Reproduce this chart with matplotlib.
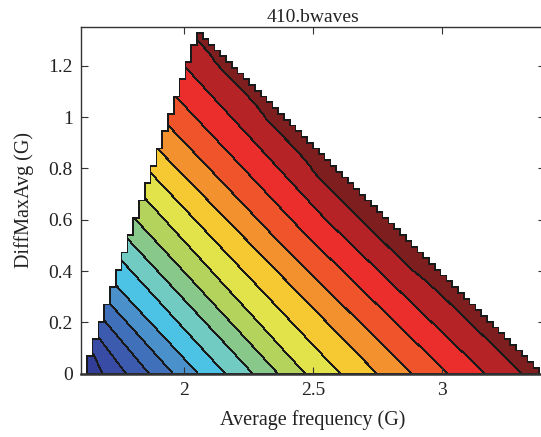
import matplotlib.pyplot as plt
import numpy as np

plt.rcParams['font.family'] = ['Liberation Serif', 'DejaVu Serif']

# frequency range of the platform (G)
f_min, f_max = 1.6, 3.4
step = 0.0225

# x where each contour boundary meets the bottom axis (G)
bottom_x = [1.628, 1.682, 1.775, 1.864, 1.957, 2.054, 2.159, 2.267,
            2.364, 2.469, 2.605, 2.748, 2.884, 3.023, 3.167, 3.310]
# height where the same boundary meets the left edge of the region (G)
edge_y = [0.045, 0.10, 0.16, 0.225, 0.29, 0.36, 0.45, 0.53,
          0.61, 0.70, 0.79, 0.88, 0.98, 1.086, 1.20, 1.307]
# x of the boundary half way up (at edge_y / 2)
mid_x = [1.621, 1.658, 1.714, 1.770, 1.827, 1.887, 1.954, 2.022,
         2.084, 2.151, 2.234, 2.321, 2.390, 2.470, 2.550, 2.620]

band_colors = ['#2c2b80', '#323e98', '#384ba5', '#3c5aae', '#4070b9',
               '#4a90cb', '#4cc3e4', '#72cbc3', '#88c98b', '#b3d35c',
               '#e2e34a', '#f6c832', '#f3912f', '#f0542a', '#eb2d2b',
               '#b52326', '#7e1e1f']

xb = np.array(bottom_x)
yl = np.array(edge_y)
xm = np.array(mid_x)
xl = f_min + yl / 3

xs = np.arange(f_min, f_max + step / 2, step)
ys = np.arange(0, 0.75 * (f_max - f_min) + step / 2, step)
X, Y = np.meshgrid(xs, ys)

Z = np.zeros_like(X)
for j, y in enumerate(ys):
    t = y / (yl / 2)
    pos = np.where(t <= 1, xb + (xm - xb) * t, xm + (xl - xm) * (t - 1))
    pos = np.maximum.accumulate(pos + 1e-6 * np.arange(len(pos)))
    Z[j] = np.interp(xs, np.r_[pos[0] - 1, pos, pos[-1] + 1], np.arange(18))

outside = (Y > 3 * (X - f_min) + 1e-6) | (X + Y > f_max + 1e-6)
Z = np.ma.array(Z, mask=outside)

fig = plt.figure(figsize=(5.41, 4.37), dpi=100)
ax = fig.add_axes([0.1497, 0.1449, 0.8577, 0.7926])

cs = ax.contourf(xs, ys, Z, levels=np.arange(18), colors=band_colors,
                 corner_mask=False)
cs.set_edgecolor('#1a1a1a')
cs.set_linewidth(0.55)

ax.set_xlim(f_min, f_max)
ax.set_ylim(0, 1.35)
ax.set_xticks([2, 2.5, 3])
ax.set_xticklabels(['2', '2.5', '3'])
ax.set_yticks([0, 0.2, 0.4, 0.6, 0.8, 1.0, 1.2])
ax.set_yticklabels(['0', '0.2', '0.4', '0.6', '0.8', '1', '1.2'])
ax.tick_params(direction='in', top=True, right=True, length=5, width=0.8,
               colors='#333333', labelcolor='#222222', labelsize=14, pad=6)
for s in ax.spines.values():
    s.set_color('#333333')
    s.set_linewidth(1.0)
ax.spines['bottom'].set_linewidth(1.8)

ax.set_title('410.bwaves', fontsize=14, color='#222222', pad=4)
ax.set_xlabel('Average frequency (G)', fontsize=14.5, color='#222222', labelpad=8)
ax.set_ylabel('DiffMaxAvg (G)', fontsize=14.5, color='#222222', labelpad=10)

fig.savefig('out.png', dpi=100)
